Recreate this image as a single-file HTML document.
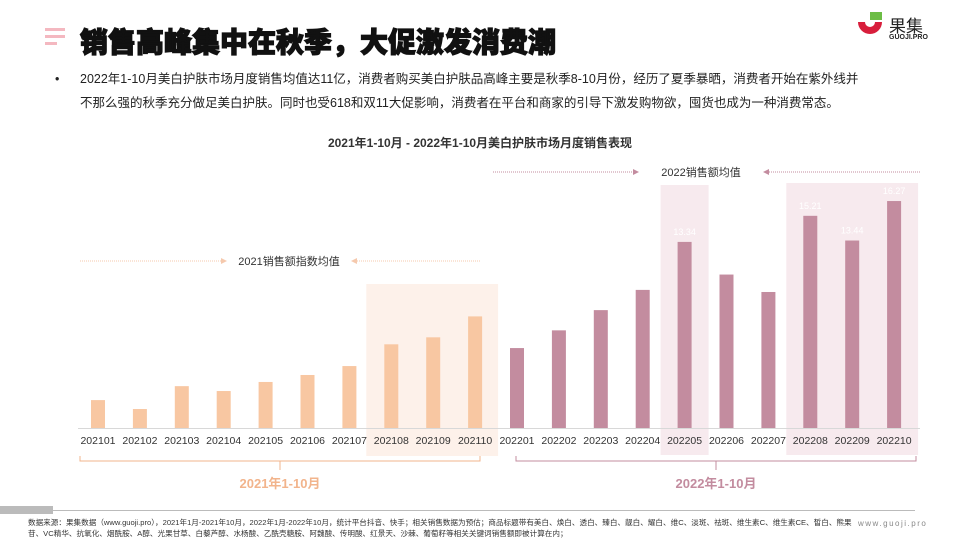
<!DOCTYPE html>
<html><head><meta charset="utf-8"><style>
body{margin:0;width:960px;height:540px;overflow:hidden;background:#fff;font-family:"Liberation Sans","Noto Sans CJK SC",sans-serif;position:relative}
.abs{position:absolute}
</style></head><body>
<div class="abs" style="left:45px;top:28px;width:20px">
<div style="height:3px;background:#f4b8c0;margin-bottom:4px"></div><div style="height:3px;background:#f4b8c0;margin-bottom:4px"></div><div style="height:3px;width:12px;background:#f4b8c0"></div></div>
<div class="abs" style="left:80px;top:21px;font-size:28px;font-weight:900;color:#111;-webkit-text-stroke:1.2px #111">销售高峰集中在秋季，大促激发消费潮</div>
<div class="abs" style="left:855px;top:12px;width:90px;height:35px">
<svg width="30" height="32" viewBox="0 0 30 32"><path d="M3 10 A12 12 0 0 0 27 10 L20 10 A5 5 0 0 1 10 10 Z" fill="#d81e3c"/><rect x="15" y="0" width="12" height="8" fill="#6cbd45"/></svg>
<span style="position:absolute;left:34px;top:0;font-size:17px;color:#222">果集</span>
<span style="position:absolute;left:34px;top:22px;font-size:7px;color:#222;font-weight:bold">GUOJI.PRO</span></div>
<div class="abs" style="left:55px;top:67px;width:812px;font-size:12.5px;line-height:24px;color:#222">
<span style="position:absolute;left:0">•</span><div style="margin-left:25px">2022年1-10月美白护肤市场月度销售均值达11亿，消费者购买美白护肤品高峰主要是秋季8-10月份，经历了夏季暴晒，消费者开始在紫外线并不那么强的秋季充分做足美白护肤。同时也受618和双11大促影响，消费者在平台和商家的引导下激发购物欲，囤货也成为一种消费常态。</div></div>
<div class="abs" style="left:0;width:960px;top:134px;text-align:center;font-size:12px;font-weight:bold;color:#333">2021年1-10月 - 2022年1-10月美白护肤市场月度销售表现</div>
<svg class="abs" style="left:0;top:0" width="960" height="540" id="chart"></svg>
<div class="abs" style="left:0;top:506px;width:53px;height:8px;background:#bbb"></div>
<div class="abs" style="left:53px;top:510px;width:862px;height:1px;background:#bbb"></div>
<div class="abs" style="left:28px;top:517px;width:825px;font-size:7.6px;line-height:11px;color:#333">数据来源：果集数据（www.guoji.pro），2021年1月-2021年10月，2022年1月-2022年10月，统计平台抖音、快手；相关销售数据为预估；商品标题带有美白、焕白、透白、臻白、靓白、耀白、维C、淡斑、祛斑、维生素C、维生素CE、皙白、熊果苷、VC精华、抗氧化、烟酰胺、A醇、光果甘草、白藜芦醇、水杨酸、乙酰壳糖胺、阿魏酸、传明酸、红景天、沙棘、葡萄籽等相关关键词销售额即被计算在内；</div>
<div class="abs" style="left:858px;top:519px;font-size:8px;color:#888;letter-spacing:1.5px">www.guoji.pro</div>
<script>
const categories21=['202101','202102','202103','202104','202105','202106','202107','202108','202109','202110'];
const values21=[2.0,1.36,3.0,2.65,3.3,3.8,4.44,6.0,6.5,8.0];
const categories22=['202201','202202','202203','202204','202205','202206','202207','202208','202209','202210'];
const values22=[5.73,7.0,8.45,9.9,13.34,11.0,9.75,15.21,13.44,16.27];
const labels22=['','','','','13.34','','','15.21','13.44','16.27'];
const NS='http://www.w3.org/2000/svg';
const svg=document.getElementById('chart');
const base=428, scale=13.95, x0=98, step=41.9;
function xPos(i){return x0+i*step;}
function yPos(v){return base-v*scale;}
function mk(t,a,p){const e=document.createElementNS(NS,t);for(const k in a)e.setAttribute(k,a[k]);(p||svg).appendChild(e);return e;}
let h=mk('rect',{x:xPos(7)-25,y:284,width:xPos(9)-xPos(7)+48,height:172,fill:'#fdf1ea'});

h=mk('rect',{x:xPos(14)-24,y:185,width:48,height:270,fill:'#f7eaee'});

h=mk('rect',{x:xPos(17)-24,y:183,width:xPos(19)-xPos(17)+48,height:272,fill:'#f7eaee'});

let ax=mk('line',{x1:78,x2:920,y1:base+0.5,y2:base+0.5,stroke:'#d8d8d8'});

const all=categories21.concat(categories22);
all.forEach((c,i)=>{
  const v=i<10?values21[i]:values22[i-10];
  const b=mk('rect',{x:xPos(i)-7,y:yPos(v),width:14,height:v*scale,fill:i<10?'#f8c7a2':'#c38c9f'});
  
  
  const t=mk('text',{x:xPos(i),y:444,'text-anchor':'middle','font-size':'10.5',fill:'#333'});
  t.textContent=c;
  
  
  if(i>=10&&labels22[i-10]){
    const l=mk('text',{x:xPos(i),y:yPos(v)-7,'text-anchor':'middle','font-size':'9',fill:'#fff'});
    l.textContent=labels22[i-10];
    
    
  }
});
function avg(x1,x2,y,lx,label,col,name){
  mk('line',{x1:x1,x2:lx-68,y1:y,y2:y,stroke:col,'stroke-dasharray':'1 1'});
  mk('line',{x1:lx+68,x2:x2,y1:y,y2:y,stroke:col,'stroke-dasharray':'1 1'});
  mk('path',{d:`M${lx-68} ${y-3}L${lx-62} ${y}L${lx-68} ${y+3}Z`,fill:col});
  mk('path',{d:`M${lx+68} ${y-3}L${lx+62} ${y}L${lx+68} ${y+3}Z`,fill:col});
  const t=mk('text',{x:lx,y:y+4,'text-anchor':'middle','font-size':'11',fill:'#333'});
  t.textContent=label;
  
  
}
avg(80,480,261,289,'2021销售额指数均值','#f5c9ad','avg-label-2021');
avg(493,920,172,701,'2022销售额均值','#c38c9f','avg-label-2022');
function brace(x1,x2,col,label,name){
  const m=(x1+x2)/2;
  mk('path',{d:`M${x1} 456V461H${x2}V456M${m} 461V470`,fill:'none',stroke:col});
  const t=mk('text',{x:m,y:488,'text-anchor':'middle','font-size':'13','font-weight':'bold',fill:col});
  t.textContent=label;
  
  
}
brace(80,480,'#f2b48c','2021年1-10月','brace-label-2021');
brace(516,916,'#c38c9f','2022年1-10月','brace-label-2022');
</script>
</body></html>
